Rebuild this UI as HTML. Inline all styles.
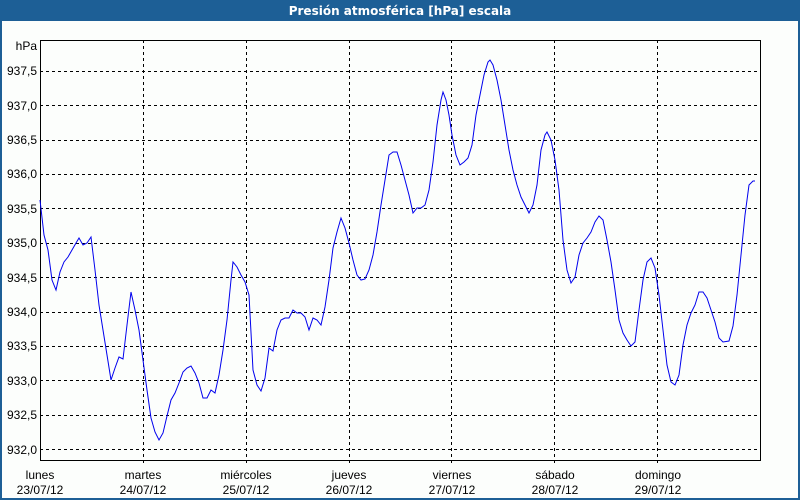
<!DOCTYPE html>
<html><head><meta charset="utf-8"><style>
body{margin:0;width:800px;height:500px;overflow:hidden;background:#fff;font-family:"Liberation Sans",sans-serif;}
</style></head><body>
<svg width="800" height="500" xmlns="http://www.w3.org/2000/svg" style="display:block">
<rect x="0" y="0" width="800" height="500" fill="#1d5f96"/>
<rect x="2" y="21" width="796" height="477" fill="#fcfefc"/>
<text x="400" y="15" text-anchor="middle" fill="#fff" font-size="12" font-weight="bold" font-family="DejaVu Sans,Liberation Sans,sans-serif">Presión atmosférica [hPa] escala</text>
<g stroke="#000" stroke-width="1" stroke-dasharray="3,3" shape-rendering="crispEdges">
<line x1="40" y1="71.5" x2="760" y2="71.5"/>
<line x1="40" y1="105.5" x2="760" y2="105.5"/>
<line x1="40" y1="140.5" x2="760" y2="140.5"/>
<line x1="40" y1="174.5" x2="760" y2="174.5"/>
<line x1="40" y1="208.5" x2="760" y2="208.5"/>
<line x1="40" y1="243.5" x2="760" y2="243.5"/>
<line x1="40" y1="277.5" x2="760" y2="277.5"/>
<line x1="40" y1="312.5" x2="760" y2="312.5"/>
<line x1="40" y1="346.5" x2="760" y2="346.5"/>
<line x1="40" y1="380.5" x2="760" y2="380.5"/>
<line x1="40" y1="415.5" x2="760" y2="415.5"/>
<line x1="40" y1="449.5" x2="760" y2="449.5"/>
<line x1="143.5" y1="40" x2="143.5" y2="465"/>
<line x1="246.5" y1="40" x2="246.5" y2="465"/>
<line x1="349.5" y1="40" x2="349.5" y2="465"/>
<line x1="451.5" y1="40" x2="451.5" y2="465"/>
<line x1="554.5" y1="40" x2="554.5" y2="465"/>
<line x1="657.5" y1="40" x2="657.5" y2="465"/>
</g>
<rect x="40.5" y="40.5" width="720" height="420" fill="none" stroke="#000" stroke-width="1" shape-rendering="crispEdges"/>
<g font-size="12" fill="#000" text-anchor="end">
<text x="37" y="50">hPa</text>
<text x="37" y="75">937,5</text>
<text x="37" y="110">937,0</text>
<text x="37" y="144">936,5</text>
<text x="37" y="178">936,0</text>
<text x="37" y="213">935,5</text>
<text x="37" y="247">935,0</text>
<text x="37" y="282">934,5</text>
<text x="37" y="316">934,0</text>
<text x="37" y="350">933,5</text>
<text x="37" y="385">933,0</text>
<text x="37" y="419">932,5</text>
<text x="37" y="454">932,0</text>
</g>
<g font-size="12" fill="#000" text-anchor="middle">
<text x="40" y="479">lunes</text><text x="40" y="494">23/07/12</text>
<text x="143" y="479">martes</text><text x="143" y="494">24/07/12</text>
<text x="246" y="479">miércoles</text><text x="246" y="494">25/07/12</text>
<text x="349" y="479">jueves</text><text x="349" y="494">26/07/12</text>
<text x="452" y="479">viernes</text><text x="452" y="494">27/07/12</text>
<text x="555" y="479">sábado</text><text x="555" y="494">28/07/12</text>
<text x="658" y="479">domingo</text><text x="658" y="494">29/07/12</text>
</g>
<polyline fill="none" stroke="#0000ee" stroke-width="1" points="40,200 44,235 48,250 52,280 56,290 60,272 64,262 68,257 72,250 76,243 79,238 83,245 87,243 91,237 95,270 99,305 103,330 107,355 111,380 115,368 119,357 123,359 127,325 131,292 135,310 139,330 143,360 147,390 151,418 155,432 159,440 163,433 167,416 171,400 175,393 179,383 183,372 187,368 191,366 195,373 199,383 203,398 207,398 211,390 215,393 219,375 223,350 227,320 231,280 233,262 237,267 241,275 245,282 249,295 253,370 257,385 261,391 265,378 269,348 273,351 277,330 281,320 285,318 289,318 293,310 297,313 301,313 305,317 309,330 313,318 317,320 321,325 325,307 329,280 333,248 337,232 341,218 345,228 349,243 353,260 357,275 361,280 365,279 369,270 373,255 377,232 381,205 385,180 389,155 393,152 397,152 401,165 405,180 409,195 413,213 417,208 421,208 425,205 429,190 433,162 437,125 441,100 443,92 446,100 449,115 452,135 456,155 460,165 464,162 468,158 472,145 476,115 480,95 484,75 488,62 490,60 493,65 497,80 501,100 505,125 509,150 513,170 517,185 521,197 525,205 529,213 533,205 537,185 541,150 545,135 547,132 551,140 555,160 559,190 563,240 567,270 571,283 575,277 579,255 583,243 587,238 591,232 595,222 599,216 603,220 607,240 611,262 615,290 619,320 623,333 627,340 631,346 635,342 639,310 643,280 647,262 651,258 655,268 659,295 663,330 667,365 671,382 675,385 679,375 683,345 687,325 691,313 695,305 699,292 703,292 707,298 711,310 715,322 719,338 723,342 729,341 733,326 737,295 741,255 745,215 749,185 753,181 755,181"/>
</svg>
</body></html>
